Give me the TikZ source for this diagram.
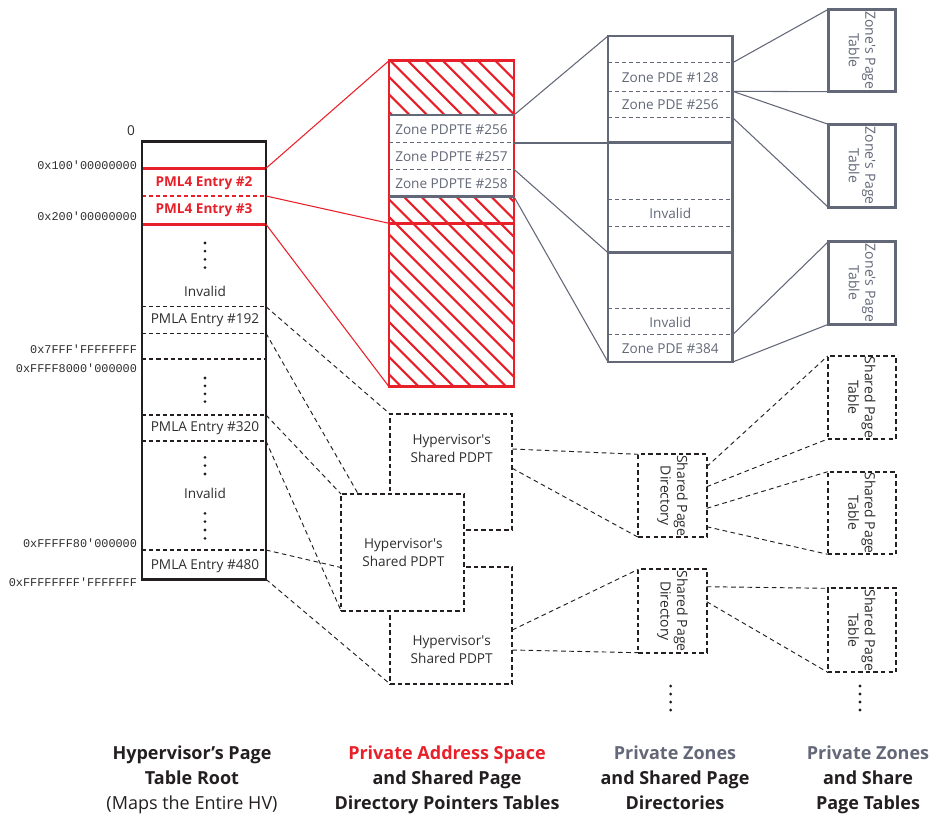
\documentclass[tikz,border=0pt]{standalone}
\usepackage{fontspec}
\setmainfont{Open Sans}
\setmonofont{Liberation Mono}
\usetikzlibrary{calc,fit}
\definecolor{hvred}{RGB}{232,32,42}
\definecolor{zgrey}{RGB}{99,104,120}
\definecolor{dark}{RGB}{35,31,32}
\definecolor{txt}{RGB}{45,45,45}
\newcommand{\sq}{\textquotesingle}
\begin{document}
\begin{tikzpicture}[x=0.75pt,y=-0.75pt,
  every node/.style={inner sep=0pt, outer sep=0pt},
  hvbox/.style={draw=dark, line width=1.9pt},
  redbox/.style={draw=hvred, line width=1.9pt},
  zbox/.style={draw=zgrey, line width=1.9pt, fill=white},
  dbox/.style={draw=dark, line width=1.6pt, dash pattern=on 3.4pt off 2.3pt, fill=white},
  rowdash/.style={line width=0.8pt, dash pattern=on 3pt off 2.2pt},
  cdash/.style={draw=dark, line width=0.7pt, dash pattern=on 3.5pt off 2.6pt},
  gline/.style={draw=zgrey, line width=0.8pt},
  rline/.style={draw=hvred, line width=0.8pt},
  cell/.style={font=\fontsize{10.2}{12}\selectfont, text=txt},
  zcell/.style={font=\fontsize{10.2}{12}\selectfont, text=zgrey},
  redcell/.style={font=\fontsize{10.2}{12}\selectfont\bfseries, text=hvred},
  addr/.style={font=\ttfamily\fontsize{8.9}{10}\selectfont, text=txt, anchor=east},
  rot/.style={rotate=-90, align=center, font=\fontsize{10.5}{12.5}\selectfont},
  two/.style={align=center, font=\fontsize{10.2}{13.5}\selectfont, text=txt},
  lab/.style={align=center, font=\fontsize{13.5}{18.75}\selectfont\bfseries, text=dark, anchor=north},
  dot/.style={fill=dark}
]
\useasboundingbox (0,0) rectangle (930,814);

% ================= left column =================
\node[fit={(142,141.7)(266,579.3)}] (L) {};
\draw[hvred, line width=1.9pt] (142,168.3) -- (266,168.3);
\draw[hvred, rowdash] (142,196) -- (266,196);
\draw[hvred, line width=1.9pt] (142,224.3) -- (266,224.3);
\foreach \yy in {306.7,333.3,415,441,550} \draw[dark, rowdash] (142,\yy) -- (266,\yy);
\draw[dark, line width=1.4pt, dash pattern=on 3.2pt off 2.2pt] (142,359) -- (266,359);
\draw[hvbox] (L.north west) rectangle (L.south east);

\node[redcell] (e2) at (204,183.3) {PML4 Entry \#2};
\node[redcell] (e3) at (204,209.8) {PML4 Entry \#3};
\node[cell] (inv1) at (205,291.7) {Invalid};
\node[cell] (p192) at (205,320) {PMLA Entry \#192};
\node[cell] (p320) at (205,428.3) {PMLA Entry \#320};
\node[cell] (inv2) at (205,493.3) {Invalid};
\node[cell] (p480) at (205,565.7) {PMLA Entry \#480};
\foreach \yy in {243,251.2,259.4,267.6,378,385.9,393.8,401.7,457.3,465.7,474,513.3,521.7,530,538.3}
  \fill[dot] (205,\yy) circle[radius=1.15pt];

\node[cell] (a0) at (131,131) {0};
\node[addr] (a1) at (137,165.7) {0x100\textquotesingle 00000000};
\node[addr] (a2) at (137,216.7) {0x200\textquotesingle 00000000};
\node[addr] (a3) at (137,349.3) {0x7FFF\textquotesingle FFFFFFFF};
\node[addr] (a4) at (137,368) {0xFFFF8000\textquotesingle 000000};
\node[addr] (a5) at (137,543.3) {0xFFFFF80\textquotesingle 000000};
\node[addr] (a6) at (137,582.7) {0xFFFFFFFF\textquotesingle FFFFFFF};

% ================= middle red column =================
\node[fit={(389,60.7)(514,386.7)}] (M) {};
\begin{scope}
  \clip (M.north west) rectangle (M.south east);
  \foreach \k in {0,...,28} \draw[hvred, line width=1.5pt] ({57.8+17.5*\k},60.7) -- ++(330,330);
\end{scope}
\fill[white] (389,115) rectangle (514,196.7);
\draw[zgrey, rowdash] (389,142.7) -- (514,142.7);
\draw[zgrey, rowdash] (389,169.3) -- (514,169.3);
\draw[hvred, line width=1.9pt] (389,223.3) -- (514,223.3);
\draw[redbox] (M.north west) rectangle (M.south east);
\draw[zgrey, line width=1.9pt] (389,115) -- (514,115);
\draw[zgrey, line width=1.9pt] (389,196.7) -- (514,196.7);
\node[zcell] (z256) at (451.5,130) {Zone PDPTE \#256};
\node[zcell] (z257) at (451.5,156.5) {Zone PDPTE \#257};
\node[zcell] (z258) at (451.5,183.3) {Zone PDPTE \#258};

% ================= zone page directories =================
\node[fit={(608,36)(732.7,362)}] (Z) {};
\foreach \yy in {62.7,91.3,117.7,199.3,226.7,308.3,334.7} \draw[zgrey, rowdash] (608,\yy) -- (732.7,\yy);
\draw[zgrey, line width=1.9pt] (608,142.7) -- (732.7,142.7);
\draw[zgrey, line width=1.9pt] (608,252.7) -- (732.7,252.7);
\draw[zgrey, line width=1.9pt] (Z.north west) rectangle (Z.south east);
\node[zcell] (d128) at (670.3,78) {Zone PDE \#128};
\node[zcell] (d256) at (670.3,104.5) {Zone PDE \#256};
\node[zcell] (dinv1) at (670.3,213.3) {Invalid};
\node[zcell] (dinv2) at (670.3,322) {Invalid};
\node[zcell] (d384) at (670.3,349) {Zone PDE \#384};

% zone page tables
\node[fit={(828.3,9.3)(895.7,91.7)}, zbox] (ZA) {};
\node[fit={(828.3,124.3)(895.7,207.3)}, zbox] (ZB) {};
\node[fit={(828.3,241.7)(895.7,324.3)}, zbox] (ZC) {};
\foreach \n in {ZA,ZB,ZC} \node[rot, text=zgrey] at (\n.center) {Zone\sq s Page\\Table};

% ================= shared structures =================
\node[fit={(390,414)(512.3,530)}, dbox] (P1) {};
\node[fit={(390,566.7)(512.3,684)}, dbox] (P3) {};
\node[fit={(341,494)(464,610.7)}, dbox] (P2) {};
\node[two] (t1) at (451.7,448.3) {Hypervisor\sq s\\Shared PDPT};
\node[two] (t2) at (403.3,552.7) {Hypervisor\sq s\\Shared PDPT};
\node[two] (t3) at (451.7,650) {Hypervisor\sq s\\Shared PDPT};

\node[fit={(638.3,454.3)(706.7,537.3)}, dbox] (SD1) {};
\node[fit={(638.3,569.3)(706.7,652.7)}, dbox] (SD2) {};
\foreach \n in {SD1,SD2} \node[rot, text=txt] at (\n.center) {Shared Page\\Directory};

\node[fit={(827.7,356)(896,439)}, dbox] (ST1) {};
\node[fit={(827.7,471.7)(896,554.3)}, dbox] (ST2) {};
\node[fit={(827.7,588.3)(896,672.3)}, dbox] (ST3) {};
\foreach \n in {ST1,ST2,ST3} \node[rot, text=txt] at (\n.center) {Shared Page\\Table};

\foreach \yy in {686,694,702,710} {
  \fill[dot] (670.7,\yy) circle[radius=1.15pt];
  \fill[dot] (860,\yy) circle[radius=1.15pt];
}

% ================= connectors =================
\coordinate (r2top) at (266,168.3);
\coordinate (r2mid) at (266,196);
\coordinate (r3bot) at (266,224.3);
\coordinate (mr223) at (389,223.3);
\draw[rline] (r2top) -- (M.north west);
\draw[rline] (r2mid) -- (mr223);
\draw[rline] (r3bot) -- (M.south west);

\coordinate (m115) at (514,115);
\coordinate (m143) at (514,142.7);
\coordinate (m169) at (514,169.3);
\coordinate (m197) at (514,196.7);
\coordinate (z143) at (608,142.7);
\coordinate (z253) at (608,252.7);
\draw[gline] (m115) -- (Z.north west);
\draw[zgrey, line width=1.6pt] (m143) -- (z143);
\draw[gline] (m169) -- (z253);
\draw[gline] (m197) -- (Z.south west);

\coordinate (z63) at (732.7,62.7);
\coordinate (z91) at (732.7,91.3);
\coordinate (z118) at (732.7,117.7);
\coordinate (z335) at (732.7,334.7);
\draw[gline] (z63) -- (ZA.north west);
\draw[gline] (z91) -- (ZA.south west);
\draw[gline] (z91) -- (ZB.north west);
\draw[gline] (z118) -- (ZB.south west);
\draw[gline] (z335) -- (ZC.north west);
\draw[gline] (Z.south east) -- (ZC.south west);

\coordinate (l307) at (266,306.7);
\coordinate (l333) at (266,333.3);
\coordinate (l415) at (266,415);
\coordinate (l441) at (266,441);
\coordinate (l550) at (266,550);
\coordinate (p2top) at ($(P2.north west)!0.14!(P2.north east)$);
\coordinate (p2left) at ($(P2.north west)!0.63!(P2.south west)$);
\draw[cdash] (l307) -- (P1.north west);
\draw[cdash] (l333) -- (p2top);
\draw[cdash] (l415) -- (P2.north west);
\draw[cdash] (l441) -- (P2.south west);
\draw[cdash] (l550) -- (p2left);
\draw[cdash] (L.south east) -- (P3.south west);

\coordinate (p1a) at (512.3,449);
\coordinate (p1b) at (512.3,468.3);
\coordinate (p3a) at (512.3,630);
\coordinate (p3b) at (512.3,650);
\draw[cdash] (p1a) -- (SD1.north west);
\draw[cdash] (p1b) -- (SD1.south west);
\draw[cdash] (p3a) -- (SD2.north west);
\draw[cdash] (p3b) -- (SD2.south west);

\coordinate (s1a) at (706.7,466.7);
\coordinate (s1b) at (706.7,486.7);
\coordinate (s1c) at (706.7,508.3);
\coordinate (s1d) at (706.7,526.7);
\coordinate (s2a) at (706.7,586.7);
\coordinate (s2b) at (706.7,601.7);
\draw[cdash] (s1a) -- (ST1.north west);
\draw[cdash] (s1b) -- (ST1.south west);
\draw[cdash] (s1c) -- (ST2.north west);
\draw[cdash] (s1d) -- (ST2.south west);
\draw[cdash] (s2a) -- (ST3.north west);
\draw[cdash] (s2b) -- (ST3.south west);

% ================= column labels =================
\node[lab] (c1) at (192,742) {\strut Hypervisor’s Page\\Table Root\\{\mdseries (Maps the Entire HV)}};
\node[lab] (c2) at (447,742) {\strut\textcolor{hvred}{Private Address Space}\\and Shared Page\\Directory Pointers Tables};
\node[lab] (c3) at (675,742) {\strut\textcolor{zgrey}{Private Zones}\\and Shared Page\\Directories};
\node[lab] (c4) at (868,742) {\strut\textcolor{zgrey}{Private Zones}\\and Share\\Page Tables};
\end{tikzpicture}
\end{document}
